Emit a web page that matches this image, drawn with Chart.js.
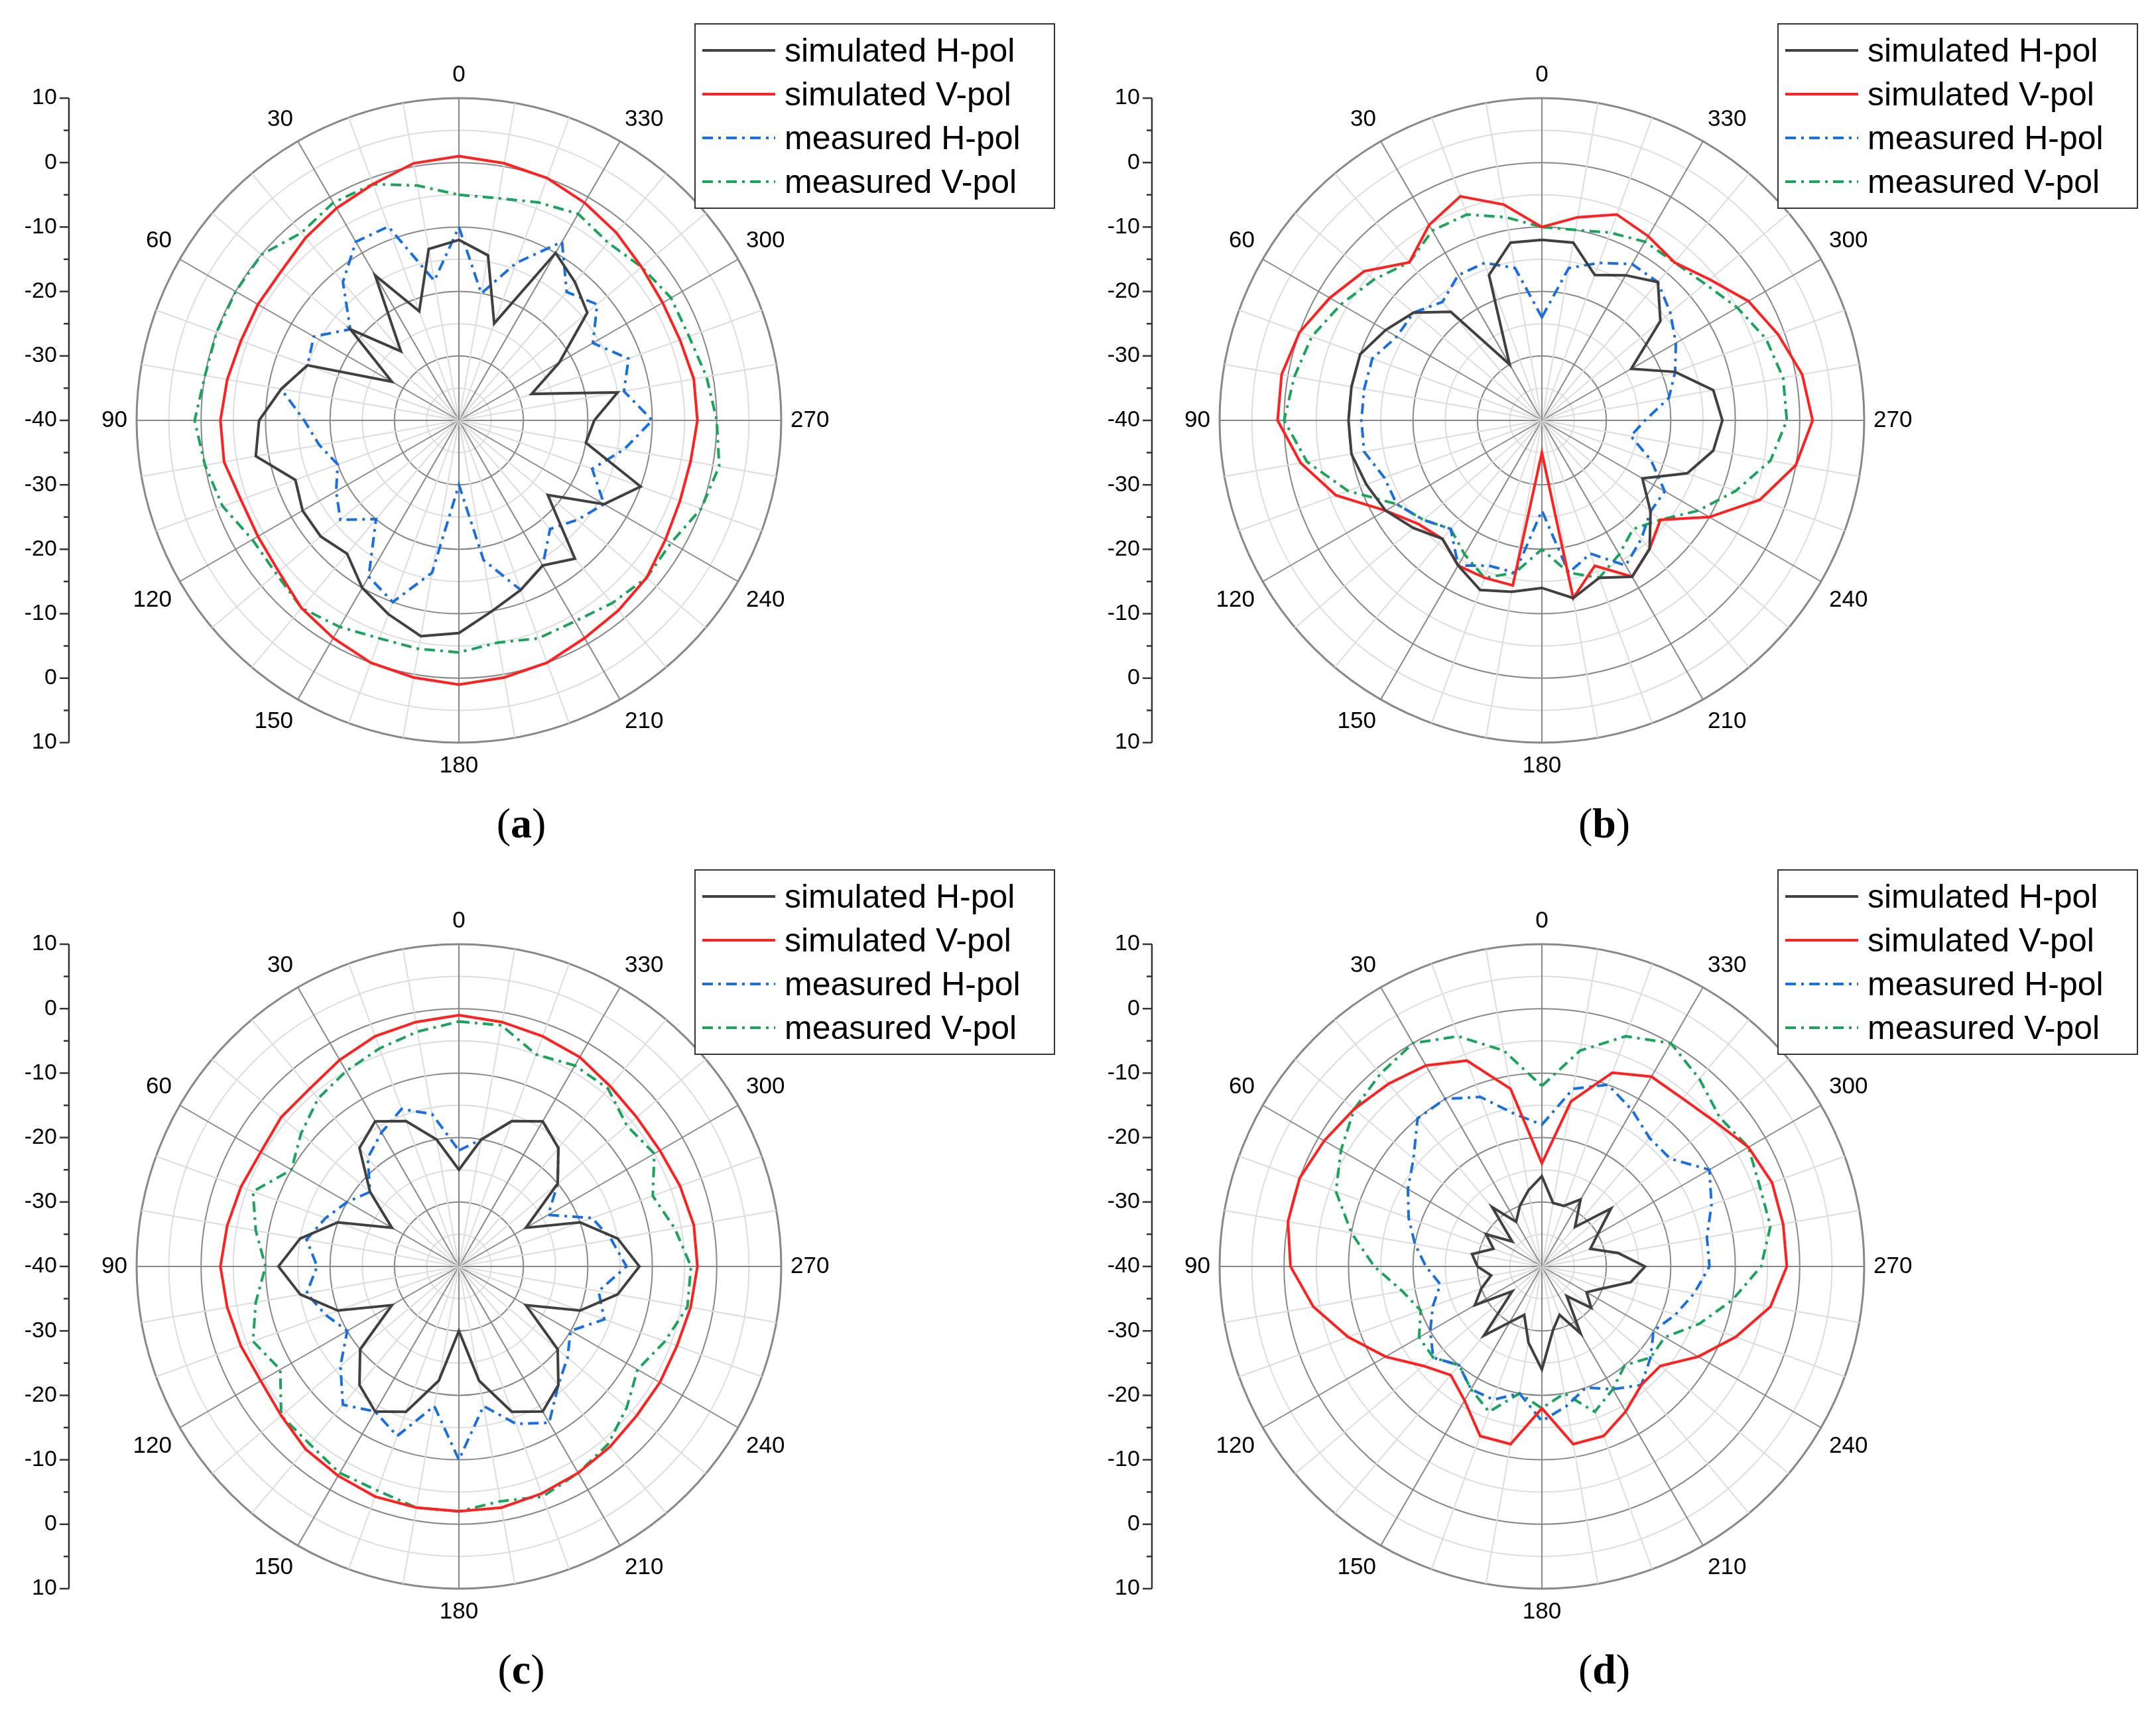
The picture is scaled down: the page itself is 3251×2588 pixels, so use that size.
<!DOCTYPE html>
<html><head><meta charset="utf-8">
<script src="https://cdn.jsdelivr.net/npm/chart.js@4"></script>
<style>
body{margin:0;background:#fff;width:3251px;height:2588px;position:relative;overflow:hidden;font-family:"Liberation Sans",Arial,sans-serif}
.panel{position:absolute;width:1625px;height:1294px}
.panel canvas{position:absolute;left:0;top:0}
.cap{position:absolute;font-family:"Liberation Serif","Times New Roman",serif;font-size:64px;transform:translateX(-50%)}
.leg{position:absolute;left:1047px;top:35px;width:540px;border:2px solid #333;background:#fff;padding:6px 0}
.leg div{height:66px;display:flex;align-items:center;font-size:50px;color:#000}
.leg svg{margin:0 14px 0 10px}
</style></head><body>
<script>
// angles theta (deg, counter-clockwise from top), step 10
const angles = Array.from({length:36},(_,i)=>i*10);
const tickLabels = ['10','0','-10','-20','-30','-40','-30','-20','-10','0','10'];
const seriesNames = ['simulated H-pol','simulated V-pol','measured H-pol','measured V-pol'];

const a_simH = [-12,-13,-22,-14,-26,-18,-28,-15,-12,-9,-8,-13,-12,-12,-13,-10,-8,-6,-7,-10,-12,-14,-12,-22,-14,-10,-20,-19,-15,-28,-22,-14,-12,-10,-24,-14];
const a_simV = [1,0.5,-1,-2,-3,-4,-4,-4,-3.5,-3,-3,-4,-4,-3.5,-2,-1,0,0.5,1,0.5,0,-1,-1.5,-2,-3,-3.5,-3.5,-3,-3,-3.5,-3.5,-3,-2,-1,0,0.5];
const a_measH = [-10,-18,-8,-8,-12,-18,-14,-15,-12,-16,-18,-20,-18,-16,-20,-12,-10,-16,-30,-18,-12,-14,-18,-16,-14,-18,-14,-10,-14,-12,-16,-12,-14,-8,-14,-20];
const a_measV = [-5,-3,-1,-1,-2,0,0,0,0,1,0,-1,-3,-3,-2,-3,-4,-4,-4,-5,-4,-4,-3,-2,-2,0,1,0,-1,-2,-2,-3,-4,-3,-4,-5];

const b_simH = [-12,-12,-16,-30,-18,-14,-12,-10,-10,-10,-10,-11,-12,-14,-16,-14,-12,-13,-14,-12,-14,-12,-14,-18,-22,-16,-13,-12,-13,-18,-24,-16,-12,-14,-16,-12];
const b_simV = [-10,-6,-3,-5,-8,-4,-2,0,1,1,-2,-6,-12,-15,-16,-14,-14,-14,-35,-12,-16,-12,-14,-16,-10,-4,0,2,1,-1,-3,-6,-8,-7,-6,-8];
const b_measH = [-24,-16,-14,-14,-16,-14,-14,-12,-12,-12,-12,-14,-14,-16,-18,-14,-16,-16,-26,-16,-18,-14,-16,-18,-18,-22,-26,-24,-20,-18,-16,-14,-12,-12,-14,-16];
const b_measV = [-10,-8,-6,-6,-8,-6,-4,-2,-1,0,-3,-8,-14,-16,-18,-16,-14,-16,-20,-16,-14,-16,-18,-16,-12,-8,-4,-2,-2,-3,-5,-7,-8,-8,-9,-10];

const c_simH = [-25,-20,-16,-14,-16,-22,-28,-20,-15,-12,-15,-20,-28,-20,-16,-14,-16,-22,-30,-22,-16,-14,-16,-20,-28,-20,-15,-12,-15,-20,-28,-20,-16,-14,-16,-20];
const c_simV = [-1,-1.5,-2,-3,-4,-4,-4.5,-4,-3.5,-3,-3.5,-4,-4.5,-4,-3,-2.5,-2,-2,-2,-2,-2.5,-3,-3.5,-4,-4,-4,-3.5,-3,-3,-3.5,-4,-4,-3.5,-2.5,-2,-1.5];
const c_measH = [-22,-16,-14,-16,-18,-22,-20,-18,-16,-18,-16,-18,-20,-16,-12,-14,-12,-18,-10,-18,-14,-12,-16,-18,-20,-16,-18,-14,-16,-18,-24,-20,-16,-14,-16,-20];
const c_measV = [-2,-3,-4,-5,-6,-8,-10,-6,-8,-10,-8,-6,-8,-4,-4,-3,-3,-2,-2,-3,-2,-3,-4,-6,-8,-6,-4,-4,-6,-8,-5,-6,-4,-4,-5,-2];

const d_simH = [-26,-28,-30,-32,-28,-34,-30,-32,-29,-30,-32,-30,-28,-34,-26,-30,-32,-28,-24,-30,-32,-28,-34,-30,-32,-30,-26,-24,-28,-32,-30,-26,-32,-28,-30,-30];
const d_simV = [-24,-12,-6,-4,-3,-2,-1,0,0,-1,-4,-8,-12,-16,-18,-16,-12,-12,-18,-12,-12,-14,-16,-16,-12,-8,-4,-2,-2,-2,-3,-5,-6,-6,-8,-14];
const d_measH = [-18,-16,-12,-10,-10,-14,-16,-18,-20,-22,-24,-22,-20,-18,-20,-18,-18,-20,-16,-18,-20,-18,-16,-18,-20,-18,-16,-14,-14,-12,-10,-14,-14,-12,-10,-12];
const d_measV = [-12,-6,-2,0,-1,-2,-4,-6,-10,-14,-18,-20,-18,-18,-20,-18,-16,-20,-18,-20,-16,-18,-20,-18,-18,-14,-10,-6,-4,-4,-3,-4,-2,0,-2,-6];

const colors = ['#404040','#ff2020','#1a6fdf','#1aa35a'];
const dashes = [[],[],[16,8,4,8],[16,8,4,8]];

const panels = [
 {id:'a',left:0,top:0,data:[a_simH,a_simV,a_measH,a_measV]},
 {id:'b',left:1633,top:0,data:[b_simH,b_simV,b_measH,b_measV]},
 {id:'c',left:0,top:1276,data:[c_simH,c_simV,c_measH,c_measV]},
 {id:'d',left:1633,top:1276,data:[d_simH,d_simV,d_measH,d_measV]},
];

const labelsCW = angles.map((_,i)=>String((360-i*10)%360));
function reorder(arr){return angles.map((_,i)=>arr[((36-i)%36)]);}

const leftAxis = {
 id:'leftAxis',
 afterDraw(chart){
  const s=chart.scales.r, ctx=chart.ctx;
  const x=s.xCenter - s.drawingArea*1.21, cy=s.yCenter, R=s.drawingArea;
  ctx.save();
  ctx.strokeStyle='#333';ctx.lineWidth=2.5;
  ctx.beginPath();ctx.moveTo(x,cy-R);ctx.lineTo(x,cy+R);ctx.stroke();
  ctx.font='34px "Liberation Sans"';ctx.fillStyle='#000';ctx.textAlign='right';ctx.textBaseline='middle';
  for(let k=0;k<=20;k++){
    const y=cy-R+k*R/10;
    const major=k%2===0;
    ctx.beginPath();ctx.moveTo(x,y);ctx.lineTo(x-(major?14:8),y);ctx.stroke();
    if(major) ctx.fillText(tickLabels[k/2],x-18,y);
  }
  ctx.restore();
 }
};

panels.forEach(p=>{
 const div=document.createElement('div');div.className='panel';
 div.style.left=p.left+'px';div.style.top=p.top+'px';
 const cv=document.createElement('canvas');cv.width=1394;cv.height=1268;
 cv.style.width='1394px';cv.style.height='1268px';
 div.appendChild(cv);
 const cap=document.createElement('div');cap.className='cap';
 cap.style.left='786px';cap.style.top='1205px';
 cap.innerHTML='(<b>'+p.id+'</b>)';div.appendChild(cap);
 const leg=document.createElement('div');leg.className='leg';
 seriesNames.forEach((n,i)=>{
  const r=document.createElement('div');
  r.innerHTML='<svg width="110" height="10"><line x1="0" y1="5" x2="110" y2="5" stroke="'+colors[i]+'" stroke-width="4" stroke-dasharray="'+dashes[i].join(',')+'"/></svg>'+n;
  leg.appendChild(r);
 });
 div.appendChild(leg);
 document.body.appendChild(div);
 new Chart(cv,{
  type:'radar',
  data:{labels:labelsCW,datasets:p.data.map((d,i)=>({label:seriesNames[i],data:reorder(d),borderColor:colors[i],borderWidth:4,borderDash:dashes[i],pointRadius:0,fill:false,tension:0}))},
  options:{responsive:false,animation:false,
   layout:{padding:{top:92,bottom:92,left:92,right:92}},
   plugins:{legend:{display:false},tooltip:{enabled:false}},
   scales:{r:{min:-40,max:10,
     ticks:{display:false,stepSize:5},
     grid:{circular:true,color:c=>(c.tick&&c.tick.value%10===0)?'#888':'#ddd',lineWidth:c=>(c.tick&&c.tick.value===10)?3:2},
     angleLines:{color:c=>(c.index%3===0)?'#888':'#ddd',lineWidth:2},
     pointLabels:{padding:14,font:{size:35,family:'Liberation Sans'},color:'#000',callback:(l,i)=>(i%3===0)?l:''}
   }}
  },
  plugins:[leftAxis]
 });
});
</script>
</body></html>
